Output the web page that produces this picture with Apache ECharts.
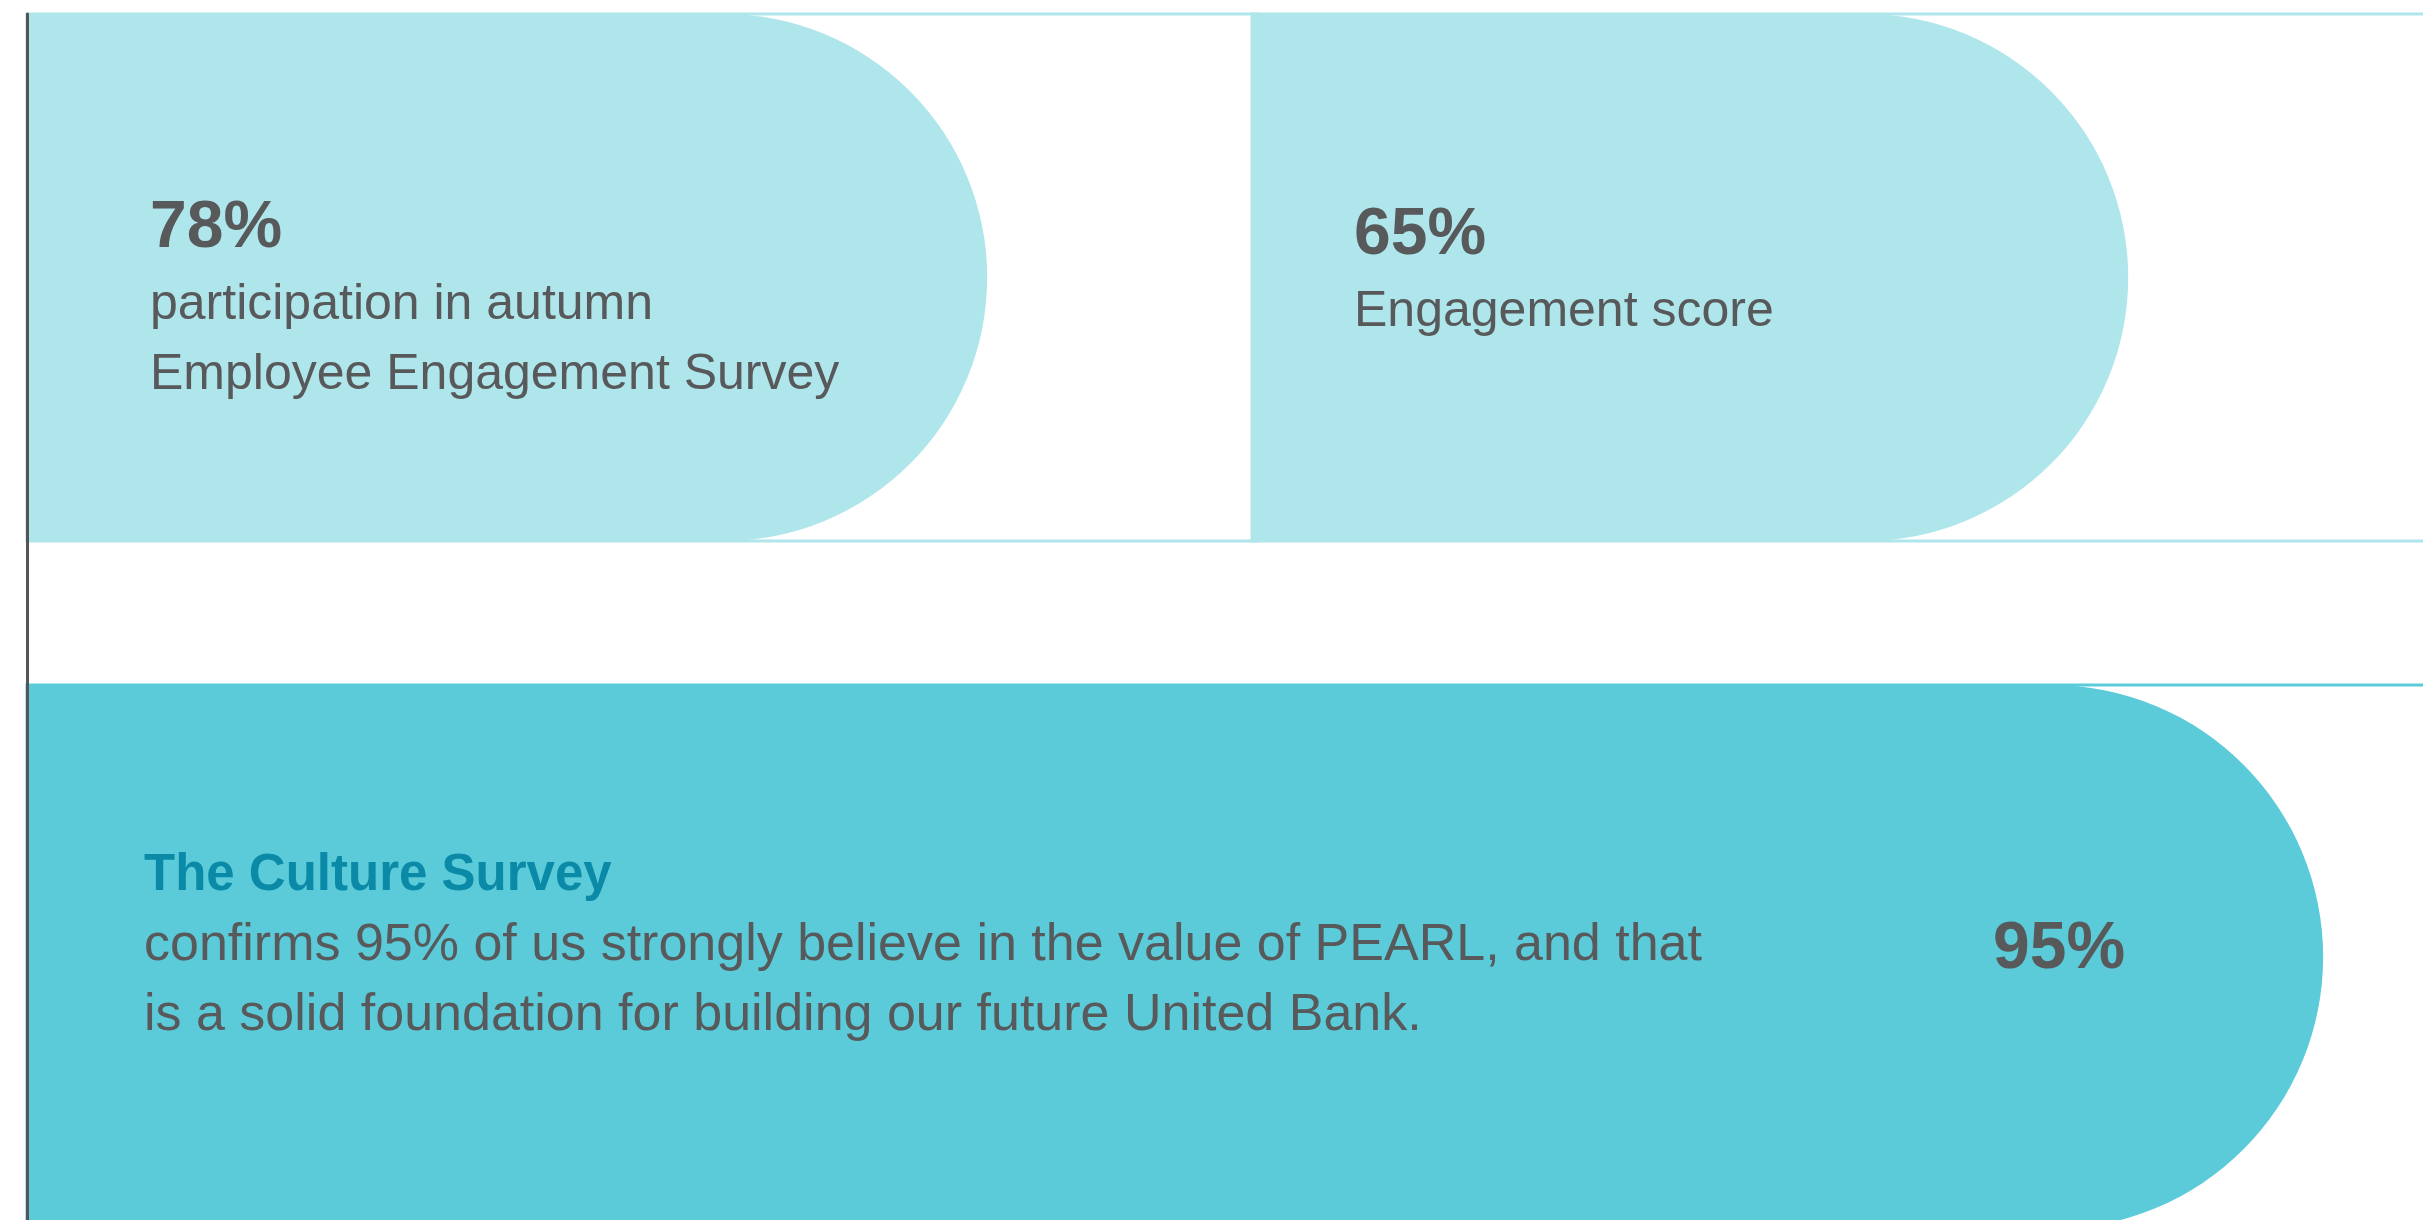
<!DOCTYPE html>
<html lang="en">
<head>
    <meta charset="UTF-8">
    <title>Survey results</title>
    <script src="https://cdn.jsdelivr.net/npm/echarts@6/dist/echarts.min.js"></script>
    <style>
        html, body {margin: 0; padding: 0; background: #ffffff;}
        .main {width: 2423px; height: 1220px;}
    </style>
</head>
<body>
<div class="main"></div>
</body>
<script>
    // values shown in each pill (percent)
    let values = [78, 65, 95];
    let headings = ['', '', 'The Culture Survey'];
    let captions = [
        ['participation in autumn', 'Employee Engagement Survey'],
        ['Engagement score'],
        ['confirms 95% of us strongly believe in the value of PEARL, and that',
            'is a solid foundation for building our future United Bank.']
    ];
    let rows = ['participation', 'engagement', 'culture'];

    let font = 'Liberation Sans, Arial, sans-serif';
    let grey = '#58595b';
    let light = '#aee6ec';
    let strong = '#5bcbd9';

    let myChart = echarts.init(document.querySelector('.main'));

    let rich = {
        v: {fontFamily: font, fontSize: 66, fontWeight: 'bold', color: grey, lineHeight: 84},
        t: {fontFamily: font, fontSize: 50, color: grey, lineHeight: 70},
        h: {fontFamily: font, fontSize: 51, fontWeight: 'bold', color: '#0b8aa7', lineHeight: 70},
        b: {fontFamily: font, fontSize: 52, color: grey, lineHeight: 70}
    };

    function pill(i, color, dist, off, barWidth) {
        return {
            type: 'bar',
            name: rows[i],
            xAxisIndex: i,
            yAxisIndex: i,
            data: [values[i]],
            barWidth: barWidth,
            silent: true,
            showBackground: true,
            backgroundStyle: {color: 'rgba(0,0,0,0)', borderColor: color, borderWidth: 3},
            itemStyle: {color: color, borderRadius: [0, 999, 999, 0]},
            label: {
                show: true,
                position: 'insideLeft',
                distance: dist,
                offset: [0, off],
                rich: rich,
                formatter: function (p) {
                    if (headings[i]) {
                        return ['{h|' + headings[i] + '}'].concat(captions[i].map(s => '{b|' + s + '}')).join('\n');
                    }
                    return ['{v|' + p.value + '%}'].concat(captions[i].map(s => '{t|' + s + '}')).join('\n');
                }
            }
        };
    }

    let series = [
        pill(0, light, 123, 21, '100%'),
        pill(1, light, 102, -7, '100%'),
        pill(2, strong, 117, -11, 544),
        {
            // value badge on the right end of the culture pill
            type: 'bar',
            xAxisIndex: 2,
            yAxisIndex: 2,
            data: [values[2]],
            barWidth: 544,
            barGap: '-100%',
            silent: true,
            itemStyle: {color: 'rgba(0,0,0,0)'},
            label: {
                show: true,
                position: 'insideRight',
                distance: 198,
                offset: [0, -7],
                formatter: '{v|{c}%}',
                rich: rich
            }
        }
    ];

    let grids = [
        {left: 27, top: 14, width: 1231, height: 527, outerBoundsMode: 'none'},
        {left: 1252, top: 14, width: 1348, height: 527, outerBoundsMode: 'none'},
        {left: 27, top: 541, width: 2417, height: 832, outerBoundsMode: 'none'}
    ];

    let option = {
        backgroundColor: '#ffffff',
        animation: false,
        grid: grids,
        xAxis: grids.map((g, i) => ({
            type: 'value', gridIndex: i, min: 0, max: 100, show: false
        })),
        yAxis: grids.map((g, i) => ({
            type: 'category',
            gridIndex: i,
            z: 5,
            data: [rows[i]],
            axisTick: {show: false},
            axisLabel: {show: false},
            splitLine: {show: false},
            axisLine: {show: i !== 1, lineStyle: {color: '#555555', width: 3}}
        })),
        series
    };
    myChart.setOption(option);
</script>
</html>
